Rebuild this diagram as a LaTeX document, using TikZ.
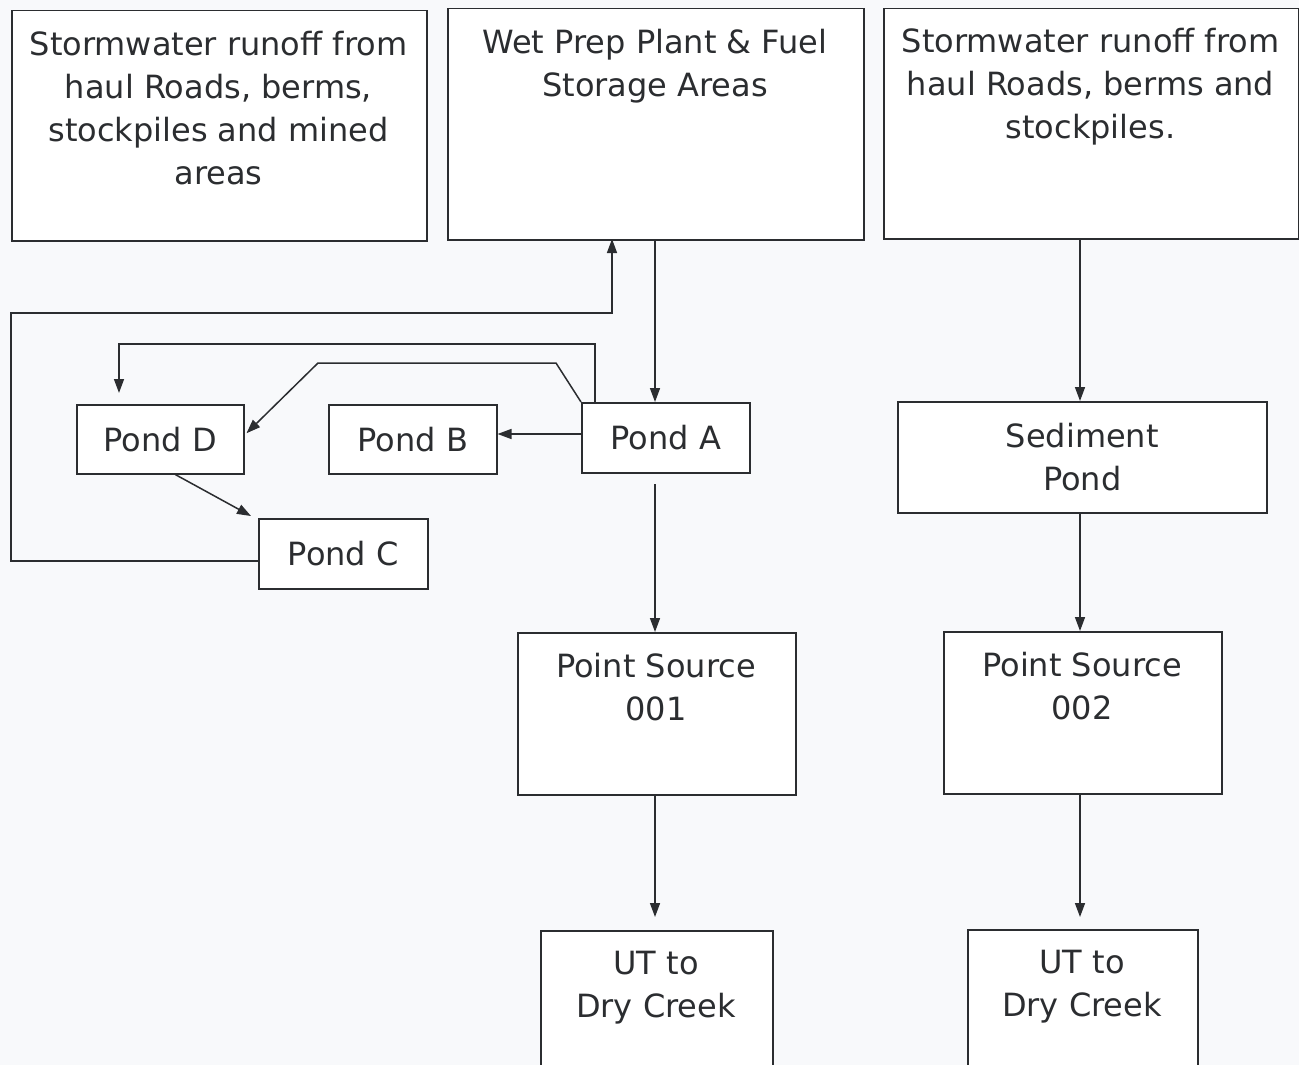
\documentclass[tikz,border=0pt]{standalone}
\usepackage{fontspec}
\setmainfont{DejaVu Sans}
\usetikzlibrary{arrows.meta,calc}
\definecolor{ink}{HTML}{2B2D30}
\definecolor{paper}{HTML}{F8F9FB}
\tikzset{
  box/.style={draw=ink, line width=1.5pt, inner sep=0pt, anchor=north west, fill=white},
  txt/.style={font=\fontsize{32}{43}\selectfont, text=ink, align=center, inner sep=0pt},
  arr/.style={draw=ink, line width=1.5pt, -{Triangle[length=14pt,width=10pt]}},
  ln/.style={draw=ink, line width=1.5pt}
}
\begin{document}
\begin{tikzpicture}[x=1pt,y=1pt]
\useasboundingbox (0,0) rectangle (1299,-1065);
\fill[paper] (0,0) rectangle (1299,-1065);
\clip (0,0) rectangle (1299,-1065);
% top boxes
\node[box, minimum width=415, minimum height=230] (b1) at (11,-10) {};
\node[txt, anchor=north] (t1) at (218.5,-31) {Stormwater runoff from\\haul Roads, berms,\\stockpiles and mined\\areas};
\node[box, minimum width=416, minimum height=231] (b2) at (447,-8) {};
\node[txt, anchor=north] (t2) at (655,-29) {Wet Prep Plant \& Fuel\\Storage Areas};
\node[box, minimum width=415, minimum height=230] (b3) at (883,-8) {};
\node[txt, anchor=north] (t3) at (1090.5,-28) {Stormwater runoff from\\haul Roads, berms and\\stockpiles.};
% ponds
\node[box, txt, minimum width=167, minimum height=69] (pd) at (76,-404) {Pond D};
\node[box, txt, minimum width=168, minimum height=69] (pb) at (328,-404) {Pond B};
\node[box, txt, minimum width=168, minimum height=70] (pa) at (581,-402) {Pond A};
\node[box, txt, minimum width=169, minimum height=70] (pc) at (258,-518) {Pond C};
\node[box, txt, minimum width=369, minimum height=111] (sp) at (897,-401) {Sediment\\Pond};
% point sources
\node[box, minimum width=278, minimum height=162] (ps1) at (517,-632) {};
\node[txt, anchor=north] (tps1) at (656,-653) {Point Source\\001};
\node[box, minimum width=278, minimum height=162] (ps2) at (943,-631) {};
\node[txt, anchor=north] (tps2) at (1082,-652) {Point Source\\002};
% outlets
\node[box, minimum width=232, minimum height=170] (ut1) at (540,-930) {};
\node[txt, anchor=north] (tut1) at (656,-951) {UT to\\Dry Creek};
\node[box, minimum width=230, minimum height=170] (ut2) at (967,-929) {};
\node[txt, anchor=north] (tut2) at (1082,-950) {UT to\\Dry Creek};
% coordinates
\coordinate (a1) at (655,-239);
\coordinate (ret) at (612,-239);
% connectors
\draw[arr] (a1) -- (a1 |- pa.north);
\draw[arr] (pa.west |- 0,-434) -- (pb.east |- 0,-434);
\draw[arr] ($(pa.north west)+(14,0)$) |- (119,-344) -- (119,-393);
\draw[arr] (pa.north west) -- (556,-363) -- (318,-363) -- ($(pd.east)+(2,6)$);
\draw[arr] ($(pd.south)+(15,0)$) -- ($(pc.north west)+(-7,2)$);
\draw[arr] ($(pc.west)+(0,-7)$) -| (11,-313) -| (ret);
\draw[arr] (655,-484) -- (655,-632);
\draw[arr] (655,-794) -- (655,-917);
\draw[arr] (1080,-238) -- (1080,-401);
\draw[arr] (1080,-512) -- (1080,-631);
\draw[arr] (1080,-793) -- (1080,-917);
\end{tikzpicture}
\end{document}
